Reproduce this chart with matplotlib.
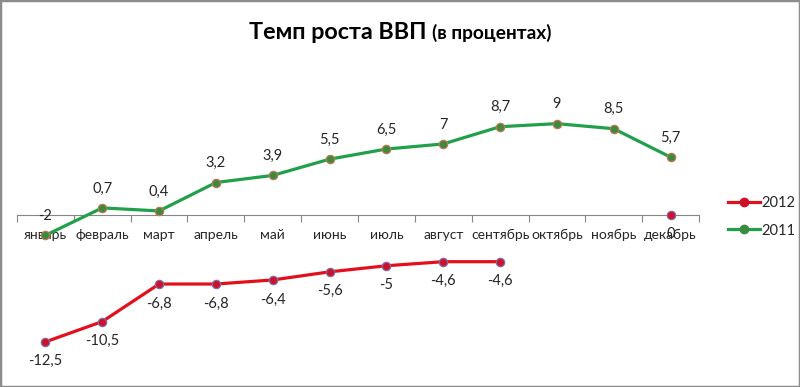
import numpy as np
import matplotlib.pyplot as plt
from matplotlib.lines import Line2D
from matplotlib.patches import Rectangle

plt.rcParams['font.family'] = ['Lato', 'Open Sans', 'DejaVu Sans']

months = ['январь', 'февраль', 'март', 'апрель', 'май', 'июнь', 'июль',
          'август', 'сентябрь', 'октябрь', 'ноябрь', 'декабрь']
y2011 = [-2, 0.7, 0.4, 3.2, 3.9, 5.5, 6.5, 7, 8.7, 9, 8.5, 5.7]
y2012 = [-12.5, -10.5, -6.8, -6.8, -6.4, -5.6, -5, -4.6, -4.6, np.nan, np.nan, 0]

green = '#21a04b'
red = '#e3101c'
W, H = 800, 387

fig = plt.figure(figsize=(W / 100, H / 100), dpi=100)
# plot area in pixels: x 17..699, y 70..370, zero line at y=215
ax = fig.add_axes([17 / W, 1 - 370 / H, (699 - 17) / W, 300 / H])
ppu = 10.15
ax.set_xlim(-0.5, 11.5)
ax.set_ylim(-(370 - 215) / ppu, (215 - 70) / ppu)
ax.patch.set_alpha(0)

for s in ['left', 'right', 'top']:
    ax.spines[s].set_visible(False)
ax.spines['bottom'].set_position(('data', 0))
ax.spines['bottom'].set_color('#868686')
ax.spines['bottom'].set_linewidth(0.8)
ax.set_yticks([])

ax.set_xticks(np.arange(-0.5, 12, 1))
ax.set_xticklabels([])
ax.tick_params(axis='x', which='major', direction='out', length=5, color='#868686', width=0.8)
ax.set_xticks(np.arange(12), minor=True)
ax.set_xticklabels(months, minor=True, fontsize=10, color='#262626')
ax.tick_params(axis='x', which='minor', length=0, pad=10)

x = np.arange(12)
ax.plot(x, y2012, color=red, lw=2.3, marker='o', ms=6, mfc='#d0102a', mec='#7a70a8',
        mew=0.9, zorder=5, clip_on=False)
ax.plot(x, y2011, color=green, lw=2.3, marker='o', ms=6, mfc='#3a8a40', mec='#c07850',
        mew=0.9, zorder=5, clip_on=False)

def fmt(v):
    return ('%g' % v).replace('.', ',')

for i, v in enumerate(y2011):
    ax.annotate(fmt(v), (i, v), xytext=(0, 14), textcoords='offset points',
                ha='center', va='center', fontsize=10.5, color='#262626')
for i, v in enumerate(y2012):
    if np.isnan(v):
        continue
    ax.annotate(fmt(v), (i, v), xytext=(0, -14), textcoords='offset points',
                ha='center', va='center', fontsize=10.5, color='#262626')

# legend
handles = [Line2D([], [], color=red, lw=2.3, marker='o', ms=6, mfc='#d0102a', mec='#d0102a'),
           Line2D([], [], color=green, lw=2.3, marker='o', ms=6, mfc='#3a8a40', mec='#3a8a40')]
fig.legend(handles, ['2012', '2011'], loc='center left', bbox_to_anchor=(715 / W, 1 - 217 / H),
           frameon=False, fontsize=10.5, handlelength=2.2, handletextpad=0.1,
           labelspacing=0.9, labelcolor='#262626')

# title in two sizes
fig.text(427 / W, 1 - 39 / H, 'Темп роста ВВП', ha='right', va='baseline',
         fontsize=16.8, fontweight='bold', color='black')
fig.text(432 / W, 1 - 39 / H, '(в процентах)', ha='left', va='baseline',
         fontsize=13.8, fontweight='bold', color='black')

fig.patches.append(Rectangle((0, 0), 1, 1, transform=fig.transFigure, fill=False,
                             edgecolor='#8c8c8c', lw=2.5))

fig.savefig('out.png', dpi=100)
